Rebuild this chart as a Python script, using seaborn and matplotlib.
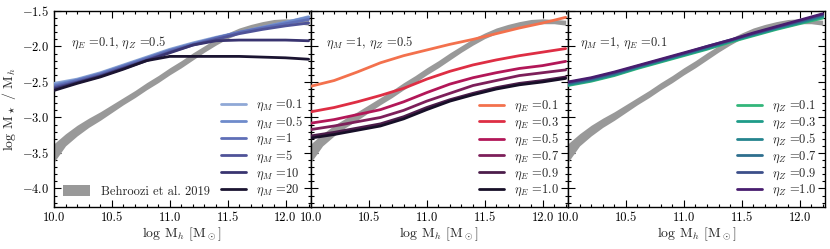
import numpy as np
import pandas as pd
import matplotlib
matplotlib.use("Agg")
import matplotlib.pyplot as plt
import matplotlib.patches as mpatches
from matplotlib.ticker import MultipleLocator
import seaborn as sns

sns.set_theme(style="ticks")
plt.rcParams.update({
    "font.family": "serif",
    "font.serif": ["cmr10"],
    "mathtext.fontset": "cm",
    "axes.formatter.use_mathtext": True,
    "axes.unicode_minus": True,
    "font.size": 9,
    "axes.edgecolor": "black",
    "xtick.color": "black",
    "ytick.color": "black",
})

# halo mass grid of the model curves
logMh = [10.0, 10.2, 10.4, 10.6, 10.8, 11.0, 11.2, 11.4, 11.6, 11.8, 12.0, 12.2]

# Behroozi et al. 2019 band
beh_x = [10.0, 10.1, 10.2, 10.3, 10.4, 10.5, 10.6, 10.7, 10.8, 10.9, 11.0, 11.1,
         11.2, 11.3, 11.4, 11.5, 11.6, 11.7, 11.8, 11.9, 12.0, 12.1, 12.2]
beh_lo = [-3.63, -3.40, -3.26, -3.14, -3.04, -2.93, -2.82, -2.72, -2.61, -2.51, -2.40, -2.30,
          -2.19, -2.08, -1.98, -1.89, -1.82, -1.76, -1.72, -1.69, -1.68, -1.68, -1.70]
beh_hi = [-3.37, -3.23, -3.11, -3.01, -2.92, -2.82, -2.72, -2.62, -2.51, -2.41, -2.30, -2.20,
          -2.09, -1.99, -1.89, -1.81, -1.74, -1.69, -1.65, -1.62, -1.61, -1.62, -1.63]

# panel 1: varying eta_M
etaM_labels = ["0.1", "0.5", "1", "5", "10", "20"]
etaM_curves = [
    [-2.52, -2.46, -2.37, -2.26, -2.15, -2.04, -1.95, -1.87, -1.80, -1.73, -1.66, -1.58],
    [-2.54, -2.47, -2.38, -2.27, -2.16, -2.05, -1.96, -1.88, -1.80, -1.73, -1.66, -1.59],
    [-2.56, -2.48, -2.39, -2.28, -2.17, -2.06, -1.97, -1.88, -1.80, -1.74, -1.68, -1.62],
    [-2.58, -2.50, -2.41, -2.30, -2.19, -2.08, -1.98, -1.90, -1.82, -1.76, -1.71, -1.67],
    [-2.60, -2.51, -2.42, -2.31, -2.20, -2.09, -1.98, -1.92, -1.91, -1.91, -1.91, -1.92],
    [-2.62, -2.52, -2.43, -2.32, -2.20, -2.14, -2.14, -2.14, -2.14, -2.15, -2.16, -2.18],
]

# panel 2: varying eta_E
etaE_labels = ["0.1", "0.3", "0.5", "0.7", "0.9", "1.0"]
etaE_curves = [
    [-2.56, -2.48, -2.36, -2.23, -2.13, -2.05, -1.97, -1.90, -1.82, -1.74, -1.67, -1.59],
    [-2.92, -2.86, -2.78, -2.69, -2.59, -2.46, -2.35, -2.26, -2.19, -2.13, -2.08, -2.03],
    [-3.08, -3.03, -2.96, -2.89, -2.78, -2.65, -2.53, -2.44, -2.37, -2.31, -2.27, -2.21],
    [-3.17, -3.12, -3.06, -3.00, -2.90, -2.77, -2.66, -2.55, -2.48, -2.41, -2.37, -2.33],
    [-3.26, -3.21, -3.15, -3.09, -2.99, -2.86, -2.75, -2.66, -2.58, -2.52, -2.48, -2.43],
    [-3.29, -3.24, -3.18, -3.12, -3.02, -2.89, -2.77, -2.68, -2.60, -2.54, -2.50, -2.45],
]

# panel 3: varying eta_Z
etaZ_labels = ["0.1", "0.3", "0.5", "0.7", "0.9", "1.0"]
etaZ_curves = [
    [-2.55, -2.49, -2.41, -2.31, -2.22, -2.13, -2.04, -1.94, -1.85, -1.76, -1.68, -1.60],
    [-2.54, -2.48, -2.40, -2.30, -2.21, -2.12, -2.03, -1.93, -1.84, -1.75, -1.67, -1.58],
    [-2.53, -2.47, -2.39, -2.29, -2.20, -2.11, -2.02, -1.92, -1.83, -1.74, -1.66, -1.57],
    [-2.52, -2.46, -2.38, -2.28, -2.19, -2.10, -2.01, -1.92, -1.82, -1.73, -1.65, -1.56],
    [-2.51, -2.45, -2.37, -2.28, -2.19, -2.10, -2.00, -1.91, -1.82, -1.73, -1.64, -1.55],
    [-2.50, -2.44, -2.36, -2.27, -2.18, -2.09, -2.00, -1.91, -1.81, -1.72, -1.63, -1.54],
]

pal_M = ["#8fa8d6", "#6f8bcb", "#5f6fb7", "#4f5398", "#393470", "#1b1431"]
rocket = sns.color_palette("rocket", as_cmap=True)
pal_E = [rocket(v) for v in [0.70, 0.56, 0.44, 0.32, 0.20, 0.06]]
viridis = sns.color_palette("viridis", as_cmap=True)
pal_Z = [viridis(v) for v in [0.66, 0.55, 0.45, 0.36, 0.24, 0.08]]

panels = [
    (r"\eta_M", etaM_labels, etaM_curves, pal_M, r"$\eta_E$ =0.1, $\eta_Z$ =0.5", 0.068),
    (r"\eta_E", etaE_labels, etaE_curves, pal_E, r"$\eta_M$ =1, $\eta_Z$ =0.5", 0.058),
    (r"\eta_Z", etaZ_labels, etaZ_curves, pal_Z, r"$\eta_M$ =1, $\eta_E$ =0.1", 0.045),
]

fig, axes = plt.subplots(1, 3, figsize=(8.3, 2.49), dpi=100, sharey=True)
fig.subplots_adjust(left=0.065, right=0.994, bottom=0.169, top=0.956, wspace=0)

band_color = "#999999"
for i, (ax, (sym, labels, curves, pal, note, tx)) in enumerate(zip(axes, panels)):
    ax.fill_between(beh_x, beh_lo, beh_hi, color=band_color, lw=0, zorder=1)
    rows = []
    for lab, ys in zip(labels, curves):
        name = rf"${sym}$ ={lab}"
        for x, y in zip(logMh, ys):
            rows.append({"x": x, "y": y, "label": name})
    df = pd.DataFrame(rows)
    order = [rf"${sym}$ ={lab}" for lab in labels]
    sns.lineplot(data=df, x="x", y="y", hue="label", hue_order=order,
                 palette=pal, lw=2, ax=ax, legend=True, zorder=3)
    h, l = ax.get_legend_handles_labels()
    leg = ax.legend(h, l, loc="lower right", frameon=False, fontsize=9,
                    handlelength=2.0, labelspacing=0.1, borderaxespad=0.3,
                    handletextpad=0.8)
    if i == 0:
        ax.add_artist(leg)
        patch = mpatches.Patch(color=band_color, lw=0)
        ax.legend([patch], ["Behroozi et al. 2019"], loc="lower left",
                  frameon=False, fontsize=9, handlelength=2.2,
                  handleheight=1.0, borderaxespad=0.3, handletextpad=0.9)
    ax.text(tx, 0.835, note, transform=ax.transAxes, fontsize=9, va="center")

    ax.set_xlim(10.0, 12.22)
    ax.set_ylim(-4.26, -1.5)
    ax.xaxis.set_major_locator(MultipleLocator(0.5))
    ax.xaxis.set_minor_locator(MultipleLocator(0.1))
    ax.yaxis.set_major_locator(MultipleLocator(0.5))
    ax.yaxis.set_minor_locator(MultipleLocator(0.1))
    ax.tick_params(which="both", direction="in", top=True, right=True,
                   labelsize=9, width=0.8)
    ax.tick_params(which="major", length=5)
    ax.tick_params(which="minor", length=2.5)
    ax.xaxis.set_major_formatter(plt.FormatStrFormatter("%.1f"))
    ax.set_xlabel(r"log M$_h$ [M$_\odot$]", fontsize=10, labelpad=1)
    ax.set_ylabel("")
    for s in ax.spines.values():
        s.set_linewidth(1.0)

axes[0].set_ylabel(r"log M$_\star$ / M$_h$", fontsize=10, labelpad=3)
axes[0].yaxis.set_major_formatter(plt.FormatStrFormatter("$%.1f$"))

fig.savefig("out.png", dpi=100)
